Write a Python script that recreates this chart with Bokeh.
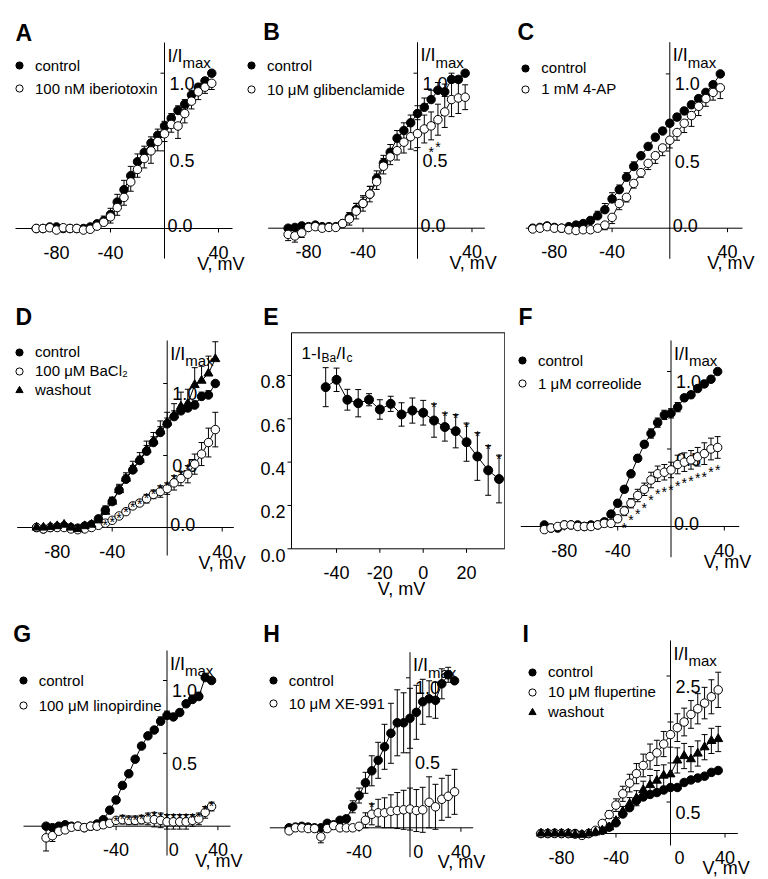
from bokeh.plotting import figure
from bokeh.models import (Range1d, ColumnDataSource, Whisker, TeeHead, Label, Legend, LegendItem)
from bokeh.layouts import row, column
from bokeh.embed import file_html
from bokeh.resources import INLINE
from bokeh.core.properties import value

FONT = "Liberation Sans"

# ---------------- data ----------------
V = [-95, -90, -85, -80, -75, -70, -65, -60, -55, -50, -45, -40, -35, -30,
     -25, -20, -15, -10, -5, 0, 5, 10, 15, 20, 25, 30, 35]

A_ctrl = [0.0, 0.0, 0.01, 0.01, 0.0, 0.0, 0.0, 0.0, 0.01, 0.03, 0.05, 0.09, 0.17, 0.25, 0.34, 0.43, 0.49, 0.55, 0.60, 0.66, 0.71, 0.76, 0.80, 0.86, 0.91, 0.95, 1.00]
A_ctrl_err = [0.0, 0.0, 0.0, 0.0, 0.0, 0.0, 0.0, 0.0, 0.01, 0.02, 0.03, 0.04, 0.05, 0.06, 0.06, 0.05, 0.04, 0.04, 0.04, 0.03, 0.03, 0.03, 0.03, 0.03, 0.02, 0.02, 0.0]
A_ibtx = [0.0, 0.0, 0.005, -0.01, 0.005, 0.0, 0.0, -0.01, -0.005, 0.015, 0.04, 0.075, 0.135, 0.20, 0.30, 0.38, 0.45, 0.50, 0.56, 0.61, 0.67, 0.66, 0.74, 0.82, 0.88, 0.91, 0.935]
A_ibtx_err = [0.0, 0.0, 0.0, 0.0, 0.0, 0.0, 0.0, 0.0, 0.01, 0.01, 0.02, 0.04, 0.05, 0.05, 0.06, 0.05, 0.06, 0.08, 0.06, 0.05, 0.05, 0.08, 0.06, 0.05, 0.05, 0.04, 0.04]

B_ctrl = [0.0, 0.005, 0.015, 0.01, 0.02, 0.01, 0.01, 0.01, 0.03, 0.07, 0.12, 0.16, 0.22, 0.32, 0.42, 0.49, 0.58, 0.63, 0.68, 0.74, 0.78, 0.83, 0.89, 0.88, 0.96, 0.96, 1.0]
B_ctrl_err = [0.01, 0.01, 0.01, 0.01, 0.01, 0.01, 0.01, 0.01, 0.01, 0.03, 0.04, 0.04, 0.05, 0.05, 0.05, 0.05, 0.05, 0.05, 0.05, 0.05, 0.06, 0.06, 0.05, 0.05, 0.04, 0.02, 0.0]
B_glib = [-0.04, -0.05, -0.03, 0.005, 0.01, 0.0, 0.005, 0.005, 0.03, 0.06, 0.11, 0.16, 0.22, 0.30, 0.40, 0.46, 0.50, 0.555, 0.59, 0.61, 0.64, 0.66, 0.70, 0.75, 0.83, 0.84, 0.845]
B_glib_err = [0.04, 0.04, 0.03, 0.01, 0.01, 0.01, 0.01, 0.01, 0.02, 0.04, 0.05, 0.05, 0.05, 0.05, 0.05, 0.05, 0.06, 0.07, 0.08, 0.09, 0.09, 0.09, 0.10, 0.10, 0.11, 0.10, 0.08]

C_ctrl = [0.0, 0.005, 0.015, 0.005, 0.0, 0.01, 0.02, 0.03, 0.05, 0.08, 0.12, 0.19, 0.25, 0.33, 0.40, 0.47, 0.53, 0.59, 0.63, 0.68, 0.72, 0.76, 0.80, 0.84, 0.88, 0.93, 1.0]
C_ctrl_err = [0.0, 0.0, 0.0, 0.0, 0.0, 0.0, 0.01, 0.01, 0.02, 0.03, 0.04, 0.04, 0.03, 0.03, 0.03, 0.02, 0.02, 0.02, 0.02, 0.02, 0.02, 0.02, 0.02, 0.02, 0.02, 0.02, 0.0]
C_4ap = [-0.005, 0.0, 0.01, 0.0, 0.0, -0.01, -0.015, -0.01, -0.01, 0.0, 0.02, 0.07, 0.16, 0.20, 0.29, 0.36, 0.42, 0.47, 0.52, 0.57, 0.62, 0.68, 0.73, 0.79, 0.84, 0.88, 0.91]
C_4ap_err = [0.01, 0.01, 0.01, 0.01, 0.01, 0.01, 0.01, 0.01, 0.01, 0.02, 0.03, 0.04, 0.04, 0.03, 0.03, 0.03, 0.04, 0.05, 0.05, 0.05, 0.05, 0.06, 0.07, 0.06, 0.05, 0.05, 0.07]

D_ctrl = [0.0, -0.01, 0.0, 0.005, 0.01, 0.0, -0.005, 0.01, 0.02, 0.06, 0.12, 0.18, 0.26, 0.335, 0.40, 0.465, 0.53, 0.59, 0.66, 0.72, 0.77, 0.81, 0.83, 0.85, 0.91, 0.92, 1.0]
D_ctrl_err = [0.0, 0.0, 0.0, 0.0, 0.0, 0.0, 0.0, 0.0, 0.01, 0.02, 0.03, 0.03, 0.03, 0.03, 0.03, 0.03, 0.04, 0.04, 0.04, 0.04, 0.04, 0.04, 0.04, 0.03, 0.03, 0.03, 0.0]
D_ba = [0.0, -0.01, 0.0, 0.0, 0.0, -0.01, -0.015, -0.01, 0.0, 0.015, 0.03, 0.05, 0.08, 0.11, 0.15, 0.17, 0.20, 0.23, 0.25, 0.27, 0.31, 0.34, 0.37, 0.44, 0.51, 0.59, 0.68]
D_ba_err = [0.01, 0.01, 0.01, 0.01, 0.01, 0.01, 0.01, 0.01, 0.01, 0.01, 0.01, 0.01, 0.01, 0.02, 0.02, 0.02, 0.03, 0.03, 0.04, 0.04, 0.05, 0.05, 0.06, 0.07, 0.08, 0.10, 0.12]
D_wash = [0.0, 0.0, 0.005, 0.01, 0.02, 0.0, -0.01, 0.01, 0.02, 0.05, 0.11, 0.18, 0.26, 0.34, 0.41, 0.47, 0.54, 0.60, 0.67, 0.73, 0.78, 0.84, 0.86, 0.99, 1.02, 1.07, 1.17]
D_wash_err = [0.0, 0.0, 0.0, 0.0, 0.0, 0.0, 0.0, 0.0, 0.01, 0.02, 0.03, 0.03, 0.04, 0.04, 0.05, 0.05, 0.06, 0.06, 0.07, 0.07, 0.08, 0.10, 0.10, 0.12, 0.10, 0.12, 0.12]

E_V = [-45, -40, -35, -30, -25, -20, -15, -10, -5, 0, 5, 10, 15, 20, 25, 30, 35]
E_val = [0.746, 0.78, 0.688, 0.672, 0.688, 0.643, 0.669, 0.62, 0.638, 0.628, 0.592, 0.562, 0.543, 0.492, 0.426, 0.362, 0.322]
E_err = [0.09, 0.054, 0.048, 0.063, 0.028, 0.045, 0.035, 0.054, 0.058, 0.057, 0.077, 0.065, 0.077, 0.088, 0.11, 0.115, 0.11]

F_ctrl = [0.01, -0.01, -0.01, 0.01, 0.01, 0.01, 0.0, 0.01, 0.01, 0.03, 0.08, 0.15, 0.24, 0.34, 0.44, 0.53, 0.60, 0.67, 0.72, 0.73, 0.77, 0.83, 0.85, 0.89, 0.92, 0.95, 1.0]
F_ctrl_err = [0.01, 0.01, 0.01, 0.01, 0.01, 0.01, 0.01, 0.01, 0.01, 0.01, 0.02, 0.02, 0.02, 0.02, 0.02, 0.02, 0.03, 0.03, 0.03, 0.03, 0.03, 0.02, 0.02, 0.02, 0.02, 0.02, 0.0]
F_corr = [-0.02, -0.01, 0.0, 0.01, 0.01, 0.0, 0.0, 0.0, 0.01, 0.02, 0.02, 0.05, 0.10, 0.15, 0.20, 0.24, 0.30, 0.34, 0.35, 0.365, 0.40, 0.415, 0.43, 0.45, 0.47, 0.50, 0.51]
F_corr_err = [0.01, 0.01, 0.01, 0.01, 0.01, 0.01, 0.01, 0.01, 0.01, 0.01, 0.01, 0.02, 0.03, 0.03, 0.04, 0.04, 0.05, 0.05, 0.05, 0.05, 0.06, 0.06, 0.06, 0.06, 0.07, 0.07, 0.07]

G_ctrl = [0.0, -0.01, 0.0, 0.01, 0.0, 0.0, -0.01, 0.0, 0.015, 0.045, 0.11, 0.18, 0.28, 0.36, 0.46, 0.55, 0.62, 0.66, 0.72, 0.76, 0.75, 0.78, 0.84, 0.87, 0.89, 1.02, 1.0]
G_ctrl_err = [0.01, 0.01, 0.01, 0.01, 0.01, 0.01, 0.01, 0.01, 0.01, 0.01, 0.02, 0.02, 0.02, 0.02, 0.02, 0.02, 0.02, 0.02, 0.03, 0.03, 0.02, 0.02, 0.02, 0.03, 0.03, 0.03, 0.0]
G_lino = [-0.08, -0.065, -0.035, -0.025, -0.007, 0.0, -0.01, 0.0, 0.0, 0.01, 0.02, 0.04, 0.045, 0.04, 0.04, 0.045, 0.05, 0.045, 0.04, 0.03, 0.03, 0.03, 0.03, 0.04, 0.05, 0.095, 0.135]
G_lino_err = [0.09, 0.04, 0.02, 0.01, 0.01, 0.01, 0.01, 0.01, 0.01, 0.01, 0.02, 0.02, 0.03, 0.03, 0.03, 0.03, 0.04, 0.05, 0.05, 0.05, 0.05, 0.05, 0.05, 0.04, 0.04, 0.04, 0.03]

H_ctrl = [0.0, 0.005, 0.01, 0.005, 0.0, 0.0, 0.03, 0.02, 0.05, 0.06, 0.14, 0.215, 0.30, 0.38, 0.45, 0.54, 0.63, 0.70, 0.70, 0.73, 0.77, 0.84, 0.86, 0.85, 0.96, 1.02, 0.98]
H_ctrl_err = [0.01, 0.01, 0.01, 0.01, 0.01, 0.01, 0.01, 0.01, 0.01, 0.02, 0.04, 0.05, 0.07, 0.10, 0.12, 0.15, 0.20, 0.22, 0.20, 0.20, 0.18, 0.15, 0.12, 0.12, 0.10, 0.05, 0.0]
H_xe = [-0.02, 0.0, 0.0, -0.005, -0.005, -0.06, -0.005, 0.015, 0.0, 0.0, 0.0, 0.01, 0.05, 0.09, 0.10, 0.10, 0.11, 0.115, 0.12, 0.125, 0.115, 0.12, 0.17, 0.14, 0.19, 0.21, 0.24]
H_xe_err = [0.01, 0.01, 0.01, 0.01, 0.01, 0.04, 0.01, 0.01, 0.01, 0.01, 0.01, 0.02, 0.05, 0.07, 0.09, 0.10, 0.11, 0.12, 0.13, 0.14, 0.14, 0.15, 0.17, 0.15, 0.14, 0.14, 0.15]

I_ctrl = [0.0, 0.0, 0.005, 0.0, 0.0, 0.0, -0.02, 0.0, 0.03, 0.05, 0.10, 0.17, 0.31, 0.41, 0.52, 0.58, 0.62, 0.65, 0.69, 0.73, 0.73, 0.81, 0.85, 0.88, 0.91, 0.97, 1.0]
I_ctrl_err = [0.0, 0.0, 0.0, 0.0, 0.0, 0.0, 0.0, 0.0, 0.01, 0.01, 0.02, 0.02, 0.03, 0.03, 0.03, 0.03, 0.03, 0.03, 0.03, 0.03, 0.03, 0.03, 0.03, 0.03, 0.03, 0.03, 0.0]
I_flu = [0.0, 0.0, 0.0, 0.0, 0.0, -0.01, -0.03, 0.0, 0.05, 0.16, 0.30, 0.45, 0.63, 0.80, 0.95, 1.08, 1.22, 1.28, 1.42, 1.57, 1.68, 1.77, 1.89, 1.98, 2.07, 2.17, 2.28]
I_flu_err = [0.01, 0.01, 0.01, 0.01, 0.01, 0.01, 0.02, 0.02, 0.02, 0.04, 0.06, 0.10, 0.12, 0.14, 0.16, 0.18, 0.20, 0.20, 0.20, 0.20, 0.22, 0.22, 0.22, 0.24, 0.25, 0.27, 0.28]
I_wash = [0.0, 0.0, 0.0, 0.0, 0.0, -0.02, -0.02, 0.0, 0.02, 0.05, 0.10, 0.20, 0.35, 0.47, 0.56, 0.69, 0.77, 0.84, 0.92, 0.94, 1.16, 1.23, 1.18, 1.27, 1.37, 1.47, 1.50]
I_wash_err = [0.0, 0.0, 0.0, 0.0, 0.0, 0.0, 0.01, 0.01, 0.01, 0.02, 0.03, 0.05, 0.08, 0.10, 0.12, 0.14, 0.15, 0.16, 0.17, 0.18, 0.20, 0.20, 0.20, 0.20, 0.20, 0.20, 0.20]

# significance marks (voltages)
B_star_V = [10, 15]
D_star_V = [-45, -40, -35, -30, -25, -20, -15, -10, -5, 0, 5, 10, 15]
E_star_V = [5, 10, 15, 20, 25, 30, 35]
F_star_V = [-35, -30, -25, -20, -15, -10, -5, 0, 5, 10, 15, 20, 25, 30, 35]
G_star_V = [-40, -35, -30, -25, -20, -15, -10, -5, 0, 5, 10, 15, 20, 25, 30, 35]
H_star_V = [-30]

# tick values
XT_std = [-80, -40, 40]
XT_GH = [-40, 40]
XT_I = [-80, -40, 40]
YT_std = [0.5, 1.0]
YT_I = [0.5, 2.5]
E_xticks = [-40, -20, 0, 20]
E_yticks = [0.0, 0.2, 0.4, 0.6, 0.8]

# ---------------- layout (page pixels; the page itself has no margin) ----------------
COLS = [(0, 246), (246, 259), (505, 261)]
ROWS = [(0, 297), (297, 303), (600, 277)]

GEO = {
    "A": dict(col=0, row=0, ox=164.0, oy=228.0, sx=1.35, sy=155.3, xb=(15, 232), yb=(42, 258), letter=(15, 32), leg=(19, 65, 23), vlab=35),
    "B": dict(col=1, row=0, ox=417.0, oy=227.7, sx=1.362, sy=155.0, xb=(267.7, 484.3), yb=(41.7, 258.3), letter=(262.7, 31.7), leg=(251, 65, 24), vlab=35),
    "C": dict(col=2, row=0, ox=669.3, oy=227.7, sx=1.443, sy=154.3, xb=(525.3, 742), yb=(41.7, 258.3), letter=(517, 31.7), leg=(525.3, 67.7, 21), vlab=35),
    "D": dict(col=0, row=1, ox=166.7, oy=527.0, sx=1.375, sy=144.0, xb=(16.7, 233.3), yb=(340, 555), letter=(15, 316.7), leg=(19, 351.7, 19.3), vlab=35),
    "F": dict(col=2, row=1, ox=670.5, oy=526.0, sx=1.333, sy=155.0, xb=(520.3, 738.7), yb=(340, 556.7), letter=(518, 316.7), leg=(522, 360, 22.7), vlab=35),
    "G": dict(col=0, row=2, ox=166.5, oy=825.7, sx=1.273, sy=145.7, xb=(23, 230), yb=(650, 855), letter=(12.7, 633.3), leg=(22.7, 680, 25), vlab=35),
    "H": dict(col=1, row=2, ox=409.5, oy=827.3, sx=1.273, sy=150.0, xb=(269.3, 472.7), yb=(651.7, 856.7), letter=(262.7, 633.3), leg=(272.7, 680, 23.3), vlab=34),
    "I": dict(col=2, row=2, ox=670.0, oy=833.0, sx=1.363, sy=63.0, xb=(535.3, 737.3), yb=(640, 845), letter=(522, 633.3), leg=(532, 671.7, 20.5), vlab=34),
}


def label(p, x, y, text, size="18px", style="normal", align="left"):
    p.add_layout(Label(x=x, y=y, text=text, text_font=FONT, text_font_size=size,
                       text_font_style=style, text_align=align, text_baseline="alphabetic",
                       text_color="black"))


def texts(p, xs, ys, strs, size="18px", align="center"):
    p.text(x=xs, y=ys, text=strs, text_font=value(FONT), text_font_size=value(size),
           text_align=align, text_baseline="alphabetic", text_color="black")


def segs(p, x0, y0, x1, y1):
    p.segment(x0=x0, y0=y0, x1=x1, y1=y1, line_color="black", line_width=1)


def err_bounds(y, err, direction):
    up = [a + (e if direction in ("up", "both") else 0.0) for a, e in zip(y, err)]
    lo = [a - (e if direction in ("down", "both") else 0.0) for a, e in zip(y, err)]
    return up, lo


def add_whisker(p, x, up, lo):
    src = ColumnDataSource(dict(x=x, upper=up, lower=lo))
    p.add_layout(Whisker(source=src, base="x", upper="upper", lower="lower", dimension="height",
                         line_color="black", line_width=1,
                         upper_head=TeeHead(size=6, line_color="black", line_width=1),
                         lower_head=TeeHead(size=6, line_color="black", line_width=1)))


def add_series(p, x, y, kind, size=8.5):
    p.line(x, y, line_color="black", line_width=1)
    if kind == "filled":
        return p.scatter(x, y, marker="circle", size=size, fill_color="black", line_color="black")
    if kind == "open":
        return p.scatter(x, y, marker="circle", size=size, fill_color="white", line_color="black", line_width=1)
    return p.scatter(x, y, marker="triangle", size=size + 0.5, fill_color="black", line_color="black")


def add_stars(p, x, up, lo, star_v, where, sy):
    xs, ys = [], []
    for v in star_v:
        i = x.index(v)
        xs.append(v)
        if where == "above":
            ys.append(up[i] - 3.5 / sy)
        else:
            ys.append(lo[i] - 12.0 / sy)
    texts(p, xs, ys, ["*"] * len(xs), size="14px")


def add_legend(p, items, g, X0, Y0, H):
    lx, ly, step = g["leg"]
    n = len(items)
    h = 18
    s = int(round(step - h))
    total = n * h + (n - 1) * s
    top = (ly - Y0) - h / 2
    loc = ((lx - X0) - 9, H - (top + total))
    leg = Legend(items=[LegendItem(label=t, renderers=[r]) for t, r in items], location=loc,
                 orientation="vertical", padding=0, margin=0, spacing=s, glyph_width=18,
                 glyph_height=18, label_height=18, label_standoff=7,
                 label_text_font=FONT, label_text_font_size="15px", label_text_color="black",
                 border_line_color=None, background_fill_alpha=0)
    p.add_layout(leg)


def bare_figure(W, H, xr, yr):
    p = figure(width=W, height=H, x_range=Range1d(*xr), y_range=Range1d(*yr),
               x_axis_type=None, y_axis_type=None, toolbar_location=None,
               output_backend="svg", min_border=0, outline_line_color=None, title=None)
    p.background_fill_color = "white"
    p.border_fill_color = "white"
    return p


def cross_panel(letter, series, xticks, yticks, zero_y=True, zero_x=None, stars=None):
    g = GEO[letter]
    X0, W = COLS[g["col"]]
    Y0, H = ROWS[g["row"]]
    ox, oy, sx, sy = g["ox"], g["oy"], g["sx"], g["sy"]

    def dx(rx):
        return (rx - ox) / sx

    def dy(ry):
        return (oy - ry) / sy

    p = bare_figure(W, H, (dx(X0), dx(X0 + W)), (dy(Y0 + H), dy(Y0)))

    # axes crossing at the origin
    segs(p, [dx(g["xb"][0])], [0.0], [dx(g["xb"][1])], [0.0])
    segs(p, [0.0], [dy(g["yb"][1])], [0.0], [dy(g["yb"][0])])
    nx, ny = len(xticks), len(yticks)
    segs(p, xticks, [0.0] * nx, xticks, [-4.0 / sy] * nx)
    texts(p, xticks, [dy(oy + 23.5)] * nx, [str(int(t)) for t in xticks])
    segs(p, [0.0] * ny, yticks, [-4.0 / sx] * ny, yticks)
    texts(p, [dx(ox + 5)] * ny, [t - 10.0 / sy for t in yticks], ["%.1f" % t for t in yticks], align="left")

    legend_items = []
    bounds = []
    for (name, y, err, kind, direction) in series:
        up, lo = err_bounds(y, err, direction)
        bounds.append((up, lo))
        add_whisker(p, V, up, lo)
    for (name, y, err, kind, direction) in series:
        r = add_series(p, V, y, kind)
        legend_items.append((name, r))
    if stars is not None:
        idx, sv, where = stars
        up, lo = bounds[idx]
        add_stars(p, V, up, lo, sv, where, sy)

    add_legend(p, legend_items, g, X0, Y0, H)

    label(p, dx(g["letter"][0]), dy(g["letter"][1]), letter, size="23px", style="bold")
    ytop = g["yb"][0]
    label(p, dx(ox + 3), dy(ytop + 13), "I/I", size="18px")
    label(p, dx(ox + 18), dy(ytop + 20), "max", size="15px")
    label(p, dx(g["xb"][1] + 12), dy(oy + g["vlab"]), "V, mV", size="18px", align="right")
    if zero_y:
        label(p, dx(ox + 3), dy(oy - 3), "0.0", size="18px")
    if zero_x is not None:
        label(p, dx(zero_x), dy(oy + 23.5), "0", size="18px", align="center")
    return p


pA = cross_panel("A", [("control", A_ctrl, A_ctrl_err, "filled", "up"),
                       ("100 nM iberiotoxin", A_ibtx, A_ibtx_err, "open", "down")], XT_std, YT_std)
pB = cross_panel("B", [("control", B_ctrl, B_ctrl_err, "filled", "up"),
                       ("10 \u03bcM glibenclamide", B_glib, B_glib_err, "open", "both")], XT_std, YT_std,
                 stars=(1, B_star_V, "below"))
pC = cross_panel("C", [("control", C_ctrl, C_ctrl_err, "filled", "up"),
                       ("1 mM 4-AP", C_4ap, C_4ap_err, "open", "down")], XT_std, YT_std)
pD = cross_panel("D", [("control", D_ctrl, D_ctrl_err, "filled", "up"),
                       ("100 \u03bcM BaCl\u2082", D_ba, D_ba_err, "open", "both"),
                       ("washout", D_wash, D_wash_err, "tri", "up")], XT_std, YT_std,
                 stars=(1, D_star_V, "above"))
pF = cross_panel("F", [("control", F_ctrl, F_ctrl_err, "filled", "both"),
                       ("1 \u03bcM correolide", F_corr, F_corr_err, "open", "both")], XT_std, YT_std,
                 stars=(1, F_star_V, "below"))
pG = cross_panel("G", [("control", G_ctrl, G_ctrl_err, "filled", "up"),
                       ("100 \u03bcM linopirdine", G_lino, G_lino_err, "open", "both")], XT_GH, YT_std,
                 zero_y=False, zero_x=173.3, stars=(1, G_star_V, "above"))
pH = cross_panel("H", [("control", H_ctrl, H_ctrl_err, "filled", "both"),
                       ("10 \u03bcM XE-991", H_xe, H_xe_err, "open", "both")], XT_GH, YT_std,
                 zero_y=False, zero_x=417.7, stars=(1, H_star_V, "above"))
pI = cross_panel("I", [("control", I_ctrl, I_ctrl_err, "filled", "up"),
                       ("10 \u03bcM flupertine", I_flu, I_flu_err, "open", "both"),
                       ("washout", I_wash, I_wash_err, "tri", "both")], XT_I, YT_I,
                 zero_y=False, zero_x=679.0)

# ---------------- panel E (boxed) ----------------
EX0, EW = COLS[1]
EY0, EH = ROWS[1]
e_ox, e_oy, e_sx, e_sy = 422.7, 548.3, 2.1667, 216.67
E_left, E_right, E_top = 291.0, 504.3, 332.3


def edx(rx):
    return (rx - e_ox) / e_sx


def edy(ry):
    return (e_oy - ry) / e_sy


pE = bare_figure(EW, EH, (edx(EX0), edx(EX0 + EW)), (edy(EY0 + EH), edy(EY0)))
xl, xr, yt = edx(E_left), edx(E_right), edy(E_top)
pE.quad(left=[xl], right=[xr], bottom=[0.0], top=[yt], fill_color=None, line_color="black", line_width=1)
nx, ny = len(E_xticks), len(E_yticks)
segs(pE, E_xticks, [0.0] * nx, E_xticks, [-4.0 / e_sy] * nx)
texts(pE, E_xticks, [edy(e_oy + 24)] * nx, [str(int(t)) for t in E_xticks])
segs(pE, [xl] * ny, E_yticks, [xl - 4.0 / e_sx] * ny, E_yticks)
texts(pE, [edx(E_left - 6)] * ny, [t - 6.5 / e_sy for t in E_yticks], ["%.1f" % t for t in E_yticks], align="right")
label(pE, edx(401), edy(588), "V, mV", size="18px", align="center")

e_up, e_lo = err_bounds(E_val, E_err, "both")
add_whisker(pE, E_V, e_up, e_lo)
pE.line(E_V, E_val, line_color="black", line_width=1)
pE.scatter(E_V, E_val, marker="circle", size=9, fill_color="black", line_color="black")
add_stars(pE, E_V, e_up, e_lo, E_star_V, "above", e_sy)
label(pE, edx(262.7), edy(316.7), "E", size="23px", style="bold")
label(pE, edx(301), edy(353.3), "1-I", size="17px")
label(pE, edx(321), edy(357), "Ba", size="12px")
label(pE, edx(336), edy(353.3), "/I", size="17px")
label(pE, edx(346), edy(357), "c", size="12px")

layout = column(row(pA, pB, pC), row(pD, pE, pF), row(pG, pH, pI))
open("out.html", "w").write(file_html(layout, INLINE, "IV curves"))
